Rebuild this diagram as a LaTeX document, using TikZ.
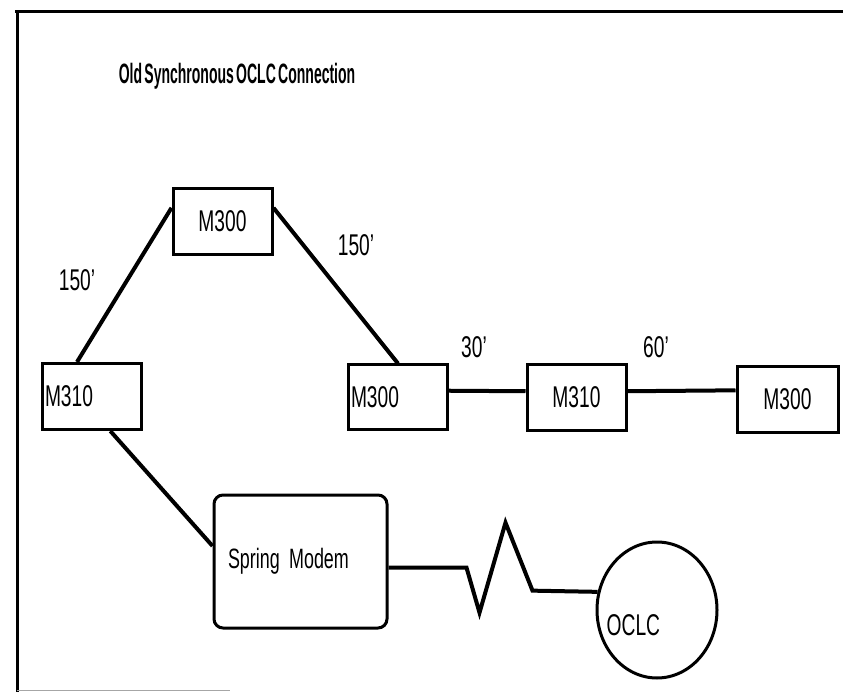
\documentclass[tikz,border=0pt]{standalone}
\usepackage{fontspec}
\setmainfont{Liberation Sans}[FakeStretch=0.64, WordSpace=0.45]
\newfontfamily\titlefont{Liberation Sans}[FakeStretch=0.5, WordSpace=0.6]
\usetikzlibrary{shapes.geometric}

\begin{document}
\begin{tikzpicture}[x=1pt, y=-1pt,
      unit/.style={draw, line width=3pt, minimum width=99pt, minimum height=66pt,
        inner sep=1pt, font=\fontsize{30}{32}\selectfont},
      lbl/.style={inner sep=0pt, font=\fontsize{30}{32}\selectfont},
      wire/.style={line width=4pt, line join=miter}]
    \useasboundingbox (0,0) rectangle (843,692);
    % frame of the scanned page
    \draw[line width=3pt] (15,12) -- (843,12);
    \draw[line width=3pt] (17,11) -- (17,692);
    \draw[black!35, line width=1pt] (17,690) -- (230,690);
    \node[inner sep=0pt, font=\titlefont\bfseries\fontsize{28}{30}\selectfont] (title) at (237,76)
      {Old Synchronous OCLC Connection};

    \node[unit] (topM300) at (222.5,221.5) {M300};
    \node[unit, text width=94pt, align=left] (leftM310) at (92,396.5) {M310};
    \node[unit, minimum height=64pt, text width=94pt, align=left] (midM300) at (398,397) {M300};
    \node[unit, minimum height=65pt] (midM310) at (576.5,397.5) {M310};
    \node[unit, minimum width=101pt, minimum height=65pt] (rightM300) at (787.5,399.5) {M300};
    \node[draw, line width=3pt, rounded corners=9pt, minimum width=173pt, minimum height=133pt,
      text width=145pt, align=left, inner xsep=14pt, font=\fontsize{28}{30}\selectfont]
      (modem) at (300.5,561.5) {Spring Modem};
    \node[draw, ellipse, line width=3pt, minimum width=120pt, minimum height=136pt]
      (oclc) at (657,610) {};
    \node[lbl, anchor=west] (oclctxt) at ([xshift=11pt,yshift=-15pt]oclc.west) {OCLC};

    \draw[wire] (leftM310.north -| 77,0) -- (topM300.165);
    \draw[wire] (topM300.15) -- (midM300.north);
    \draw[wire] (midM300.7) -- (midM310.173);
    \draw[wire] (midM310.7) -- (rightM300.170);
    \draw[wire] (leftM310.-62) -- (modem.170);
    \draw[wire] (modem.-4) -- ++(78,0) -- ++(13,45) -- ++(26,-90) -- ++(27,68) -- (oclc.163);

    \foreach \nm/\x/\y/\txt in {lenA/77/280/150', lenB/356/245/150', lenC/474/347/30', lenD/656/347/60'}
      \node[lbl] (\nm) at (\x,\y) {\txt};
  \end{tikzpicture}
\end{document}
